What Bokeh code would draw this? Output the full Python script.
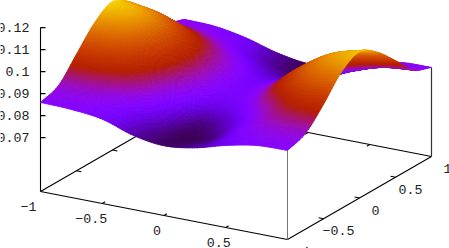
import numpy as np
from bokeh.plotting import figure
from bokeh.models import Range1d, ColumnDataSource
from bokeh.core.properties import value
from bokeh.embed import file_html
from bokeh.resources import INLINE

# surface samples (rows: y = -1 .. 1, columns: x = -1 .. 1)
grid_x = [-1, -.75, -.5, -.25, 0, .25, .5, .75, 1]
grid_y = [-1, -.75, -.5, -.25, 0, .25, .5, .75, 1]
row_m100 = [.0860, .0855, .0838, .0792, .0772, .0790, .0828, .0855, .0860]
row_m075 = [.0890, .0885, .0860, .0805, .0770, .0782, .0855, .0885, .0890]
row_m050 = [.0985, .0975, .0930, .0845, .0782, .0812, .0885, .0955, .0975]
row_m025 = [.1080, .1055, .0980, .0890, .0830, .0855, .0960, .1045, .1075]
row_000 = [.1130, .1090, .1000, .0905, .0845, .0880, .0990, .1080, .1120]
row_p025 = [.1080, .1050, .0970, .0890, .0835, .0860, .0945, .1025, .1070]
row_p050 = [.0985, .0960, .0910, .0850, .0805, .0815, .0880, .0940, .0985]
row_p075 = [.0895, .0885, .0855, .0805, .0775, .0778, .0835, .0880, .0895]
row_p100 = [.0860, .0855, .0830, .0790, .0768, .0775, .0820, .0855, .0860]

x_ticks = [-1, -.5, 0, .5]
x_labels = ["\u22121", "\u22120.5", "0", "0.5"]
y_ticks = [-1, -.5, 0, .5, 1]
y_labels = ["\u22121", "\u22120.5", "0", "0.5", "1"]
z_ticks = [.07, .08, .09, .10, .11, .12]
z_labels = ["0.07", "0.08", "0.09", "0.1", "0.11", "0.12"]

Z = np.array([row_m100, row_m075, row_m050, row_m025, row_000,
              row_p025, row_p050, row_p075, row_p100])


def sx(x, y):
    return 40 + 123.5 * (np.asarray(x, float) + 1) + 72 * (np.asarray(y, float) + 1)


def sy(x, y, z=.0455):
    return (191 + 24 * (np.asarray(x, float) + 1) - 41.5 * (np.asarray(y, float) + 1)
            - 2200 * (np.asarray(z, float) - .0455))


def shade(t):
    t = float(np.clip(t, 0, 1))
    r = np.sqrt(t)
    g = t ** 3
    b = max(0.0, np.sin(2 * np.pi * t))
    return "#%02x%02x%02x" % (int(r * 255), int(g * 255), int(b * 255))


def refine(A, n):
    """pm3d-style smoothing of the shading between samples (Catmull-Rom, along axis 1)."""
    P = np.concatenate([2 * A[:, :1] - A[:, 1:2], A, 2 * A[:, -1:] - A[:, -2:-1]], axis=1)
    out = []
    for i in range(1, P.shape[1] - 2):
        for k in range(n):
            u = k / n
            out.append(.5 * (2 * P[:, i] + (P[:, i + 1] - P[:, i - 1]) * u
                             + (2 * P[:, i - 1] - 5 * P[:, i] + 4 * P[:, i + 1] - P[:, i + 2]) * u * u
                             + (3 * P[:, i] - P[:, i - 1] - 3 * P[:, i + 1] + P[:, i + 2]) * u ** 3))
    out.append(P[:, -2])
    return np.stack(out, axis=1)


SUB = 12
F = refine(refine(Z, SUB).T, SUB).T  # F[row y, col x]
fx = np.linspace(grid_x[0], grid_x[-1], F.shape[1])
fy = np.linspace(grid_y[0], grid_y[-1], F.shape[0])
T_LOW, T_HIGH = .0745, .1155

xs, ys, cols = [], [], []
for i in range(F.shape[1] - 1):          # x from back to front
    for j in range(F.shape[0] - 2, -1, -1):  # y from back to front
        X = [fx[i], fx[i + 1], fx[i + 1], fx[i]]
        Y = [fy[j], fy[j], fy[j + 1], fy[j + 1]]
        H = [F[j, i], F[j, i + 1], F[j + 1, i + 1], F[j + 1, i]]
        xs.append(sx(X, Y).tolist())
        ys.append(sy(X, Y, H).tolist())
        cols.append(shade((np.mean(H) - T_LOW) / (T_HIGH - T_LOW)))

p = figure(width=449, height=248, x_range=Range1d(0, 449), y_range=Range1d(248, 0),
           output_backend="svg", toolbar_location=None, min_border=0)
p.axis.visible = False
p.grid.visible = False
p.outline_line_color = None


def seg(x0, y0, z0, x1, y1, z1, color="black", width=1.1):
    p.line([float(sx(x0, y0)), float(sx(x1, y1))], [float(sy(x0, y0, z0)), float(sy(x1, y1, z1))],
           line_color=color, line_width=width)


zb = .0455
seg(-1, -1, zb, 1, -1, zb)
seg(1, -1, zb, 1, 1, zb)
seg(-1, -1, zb, -1, 1, zb)
seg(-1, 1, zb, 1, 1, zb)
seg(-1, -1, zb, -1, -1, z_ticks[-1])
seg(1, -1, zb, 1, -1, row_m100[-1], color="#777777", width=1)
seg(1, 1, zb, 1, 1, row_p100[-1], color="#333333", width=1.2)
for t in x_ticks[1:]:
    seg(t, -1, zb, t, -.96, zb)
    seg(t, 1, zb, t, .96, zb)
for t in y_ticks[1:-1]:
    seg(1, t, zb, .96, t, zb)
    seg(-1, t, zb, -.96, t, zb)
for t in z_ticks:
    p.line([float(sx(-1, -1)), float(sx(-1, -1)) + 5], [float(sy(-1, -1, t))] * 2,
           line_color="black", line_width=1.1)

p.patches(xs="xs", ys="ys", fill_color="c", line_color="c", line_width=.9,
          source=ColumnDataSource(dict(xs=xs, ys=ys, c=cols)))

font = value("Liberation Mono")
kw = dict(text_font=font, text_font_size="13.3px", text_color="#222222", text_baseline="middle")
p.text([float(sx(-1, -1)) - 11] * len(z_ticks), [float(sy(-1, -1, t)) for t in z_ticks],
       text=z_labels, text_align="right", **kw)
x_dx = [-12, -11, -7, -7]
p.text([float(sx(t, -1)) + d for t, d in zip(x_ticks, x_dx)], [float(sy(t, -1)) + 15 for t in x_ticks],
       text=x_labels, text_align="center", **kw)
y_dx = [15, 15, 16, 15, 16]
p.text([float(sx(1, t)) + d for t, d in zip(y_ticks, y_dx)], [float(sy(1, t)) + 12 for t in y_ticks],
       text=y_labels, text_align="center", **kw)

open("out.html", "w").write(file_html(p, INLINE))
